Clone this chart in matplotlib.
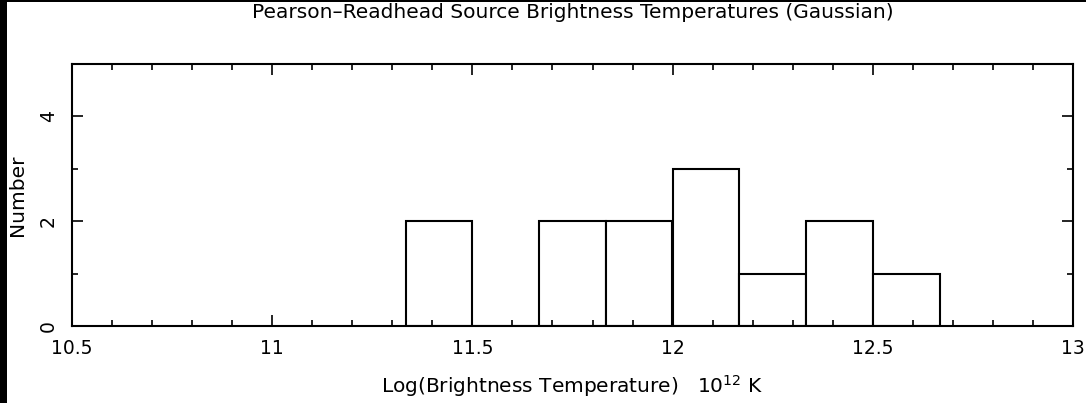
#!/usr/bin/env python3
"""Pearson-Readhead brightness temperature histogram"""
import matplotlib
matplotlib.use('Agg')
import matplotlib.pyplot as plt
from matplotlib.patches import Rectangle
from matplotlib.ticker import MultipleLocator

# histogram bins (log Tb) and counts
bin_left = [11.333, 11.5, 11.667, 11.833, 12.0, 12.167, 12.333, 12.5]
bin_width = 1 / 6
counts = [2, 0, 2, 2, 3, 1, 2, 1]
x_ticks = [10.5, 11, 11.5, 12, 12.5, 13]
x_tick_labels = ['10.5', '11', '11.5', '12', '12.5', '13']
y_ticks = [0, 2, 4]

W, H = 1086, 403
fig = plt.figure(figsize=(W / 100, H / 100), dpi=100)
ax = fig.add_axes([72 / W, 1 - 326 / H, (1073 - 72) / W, (326 - 64) / H])

ax.bar(bin_left, counts, width=bin_width, align='edge',
       facecolor='white', edgecolor='black', linewidth=1.5)

ax.set_xlim(10.5, 13)
ax.set_ylim(0, 5)
ax.set_xticks(x_ticks)
ax.set_xticklabels(x_tick_labels)
ax.xaxis.set_minor_locator(MultipleLocator(0.1))
ax.set_yticks(y_ticks)
ax.yaxis.set_minor_locator(MultipleLocator(1))
for lab in ax.get_yticklabels():
    lab.set_rotation(90)
    lab.set_va('center')

ax.tick_params(which='both', direction='in', top=True, right=True,
               width=1.2, colors='black', labelsize=13.5)
ax.tick_params(which='major', length=8)
ax.tick_params(which='minor', length=4)
ax.tick_params(axis='x', pad=9)
ax.tick_params(axis='y', pad=10)
for sp in ax.spines.values():
    sp.set_linewidth(1.5)

ax.set_title('Pearson\u2013Readhead Source Brightness Temperatures (Gaussian)',
             fontsize=14.5, pad=33)
ax.set_xlabel('Log(Brightness Temperature)   10$^{12}$ K', fontsize=14.5)
ax.xaxis.set_label_coords(0.5, -0.18)
ax.set_ylabel('Number', fontsize=14.5)
ax.yaxis.set_label_coords(-0.045, 0.5)

# black frame strips at left and top edges
fig.add_artist(Rectangle((0, 0), 7 / W, 1, transform=fig.transFigure,
                         facecolor='black', edgecolor='none'))
fig.add_artist(Rectangle((0, 1 - 2 / H), 1, 2 / H, transform=fig.transFigure,
                         facecolor='black', edgecolor='none'))

fig.savefig('out.png', dpi=100, facecolor='white')
plt.close(fig)
